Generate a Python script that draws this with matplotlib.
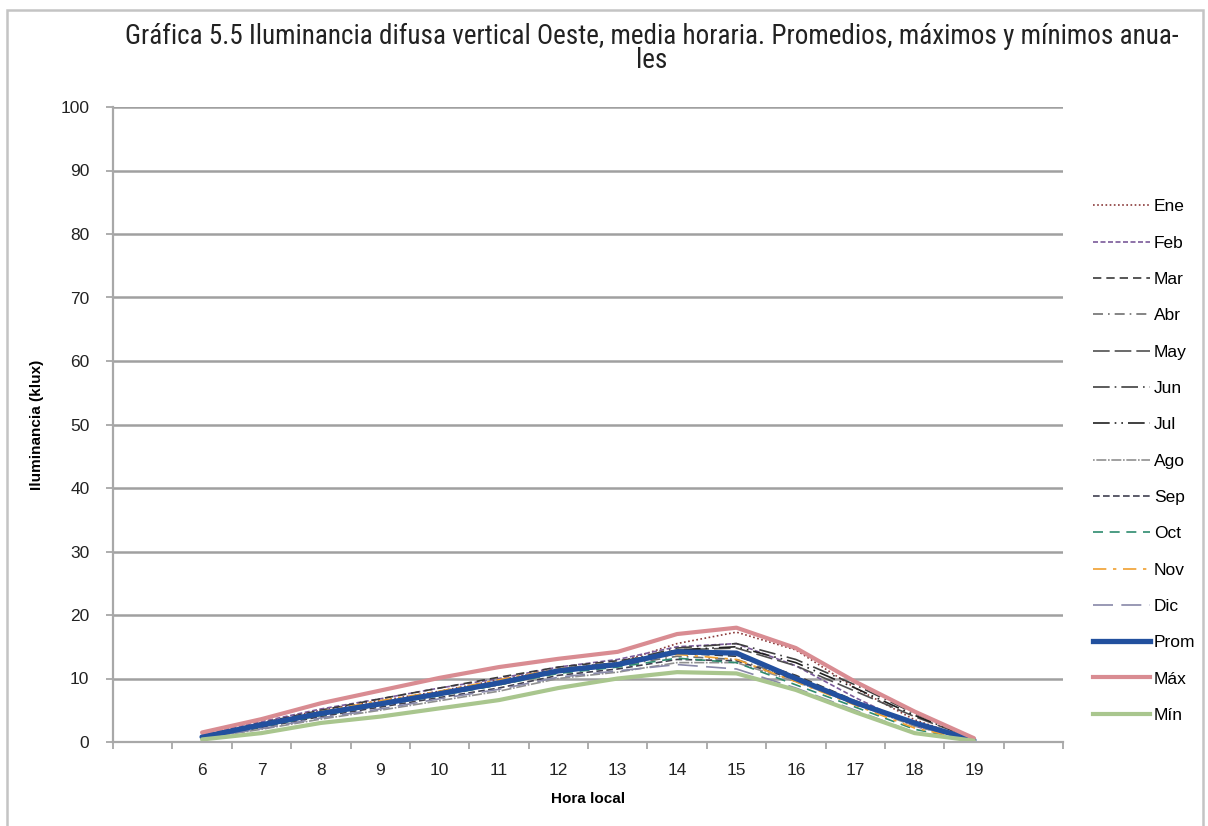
import matplotlib
matplotlib.use("Agg")
import matplotlib.pyplot as plt
from matplotlib.lines import Line2D
from matplotlib.patches import Rectangle
from matplotlib import font_manager
from matplotlib.font_manager import FontProperties

hours = [6, 7, 8, 9, 10, 11, 12, 13, 14, 15, 16, 17, 18, 19]
xtick_labels = [str(h) for h in hours]
yticks = [0, 10, 20, 30, 40, 50, 60, 70, 80, 90, 100]

ene = [1.0, 3.0, 5.0, 6.5, 8.0, 9.8, 11.5, 12.5, 15.5, 17.3, 14.5, 8.5, 3.5, 0.3]
feb = [1.2, 3.2, 5.2, 6.8, 8.5, 10.0, 11.8, 13.0, 15.0, 15.5, 12.0, 7.0, 2.5, 0.2]
mar = [1.0, 3.0, 5.0, 6.8, 8.5, 10.2, 11.8, 12.8, 14.0, 13.5, 10.5, 6.5, 3.0, 0.3]
abr = [0.8, 2.6, 4.3, 5.9, 7.5, 9.0, 11.0, 12.0, 13.5, 13.0, 10.0, 6.2, 3.0, 0.3]
may = [0.8, 2.5, 4.2, 5.8, 7.4, 9.0, 11.0, 12.2, 14.5, 14.8, 12.0, 8.0, 4.0, 0.5]
jun = [0.9, 2.7, 4.6, 6.2, 7.8, 9.5, 11.5, 12.5, 14.8, 15.5, 13.0, 9.0, 4.5, 0.5]
jul = [0.8, 2.6, 4.4, 6.0, 7.6, 9.2, 11.2, 12.3, 14.5, 15.0, 12.5, 8.5, 4.2, 0.5]
ago = [0.6, 2.0, 3.6, 5.0, 6.5, 8.0, 10.0, 11.0, 12.5, 12.5, 9.5, 6.0, 2.5, 0.3]
sep = [0.7, 2.3, 4.0, 5.5, 7.0, 8.5, 10.5, 11.5, 13.0, 12.8, 9.8, 6.0, 2.8, 0.3]
oct_ = [0.7, 2.4, 4.2, 5.8, 7.3, 9.0, 10.8, 11.8, 13.2, 12.5, 9.0, 5.5, 2.0, 0.2]
nov = [0.9, 2.8, 4.8, 6.5, 8.0, 9.8, 11.5, 12.3, 13.8, 13.0, 9.5, 5.8, 2.2, 0.2]
dic = [0.6, 2.1, 3.8, 5.2, 6.8, 8.3, 10.2, 11.2, 12.2, 11.5, 8.5, 5.0, 1.5, 0.1]
prom = [0.8, 2.7, 4.5, 6.0, 7.6, 9.3, 11.2, 12.2, 14.2, 14.0, 10.0, 6.2, 3.0, 0.3]
maxv = [1.5, 3.6, 6.1, 8.1, 10.1, 11.8, 13.1, 14.2, 17.0, 18.0, 14.8, 9.5, 4.8, 0.6]
minv = [0.4, 1.4, 3.0, 4.0, 5.3, 6.6, 8.5, 10.0, 11.0, 10.8, 8.2, 4.7, 1.4, 0.2]

series_names = ["Ene", "Feb", "Mar", "Abr", "May", "Jun", "Jul", "Ago", "Sep",
                "Oct", "Nov", "Dic", "Prom", "Máx", "Mín"]
series_values = [ene, feb, mar, abr, may, jun, jul, ago, sep, oct_, nov, dic,
                 prom, maxv, minv]
colors = ["#8a3a3a", "#7a5a9a", "#3a3a3a", "#707070", "#505050", "#404040",
          "#202020", "#909090", "#404050", "#2E8B6E", "#F0A030", "#8888A8",
          "#22509E", "#D98C92", "#A9C68E"]
styles = [(0, (1, 1.5)), (0, (3, 1.5)), (0, (5, 3)), (0, (6, 3, 1, 3)),
          (0, (10, 3)), (0, (10, 3, 1, 3)), (0, (10, 3, 1, 3, 1, 3)),
          (0, (1, 1, 6, 1)), (0, (4, 2)), (0, (6, 4)), (0, (8, 4, 2, 4)),
          (0, (12, 5)), "-", "-", "-"]
widths = [1.2] * 12 + [3.8, 3.0, 3.0]

def pick_font(cands):
    for c in cands:
        try:
            font_manager.findfont(c, fallback_to_default=False)
            return c
        except Exception:
            pass
    return "DejaVu Sans"

def pick_narrow():
    for fam in ["Liberation Sans Narrow", "Arial Narrow", "Roboto Condensed",
                "Open Sans Condensed", "Noto Sans Condensed"]:
        try:
            font_manager.findfont(fam, fallback_to_default=False)
            return FontProperties(family=[fam, "DejaVu Sans"])
        except Exception:
            pass
    for fam in ["Noto Sans", "Open Sans", "Roboto", "Liberation Sans"]:
        for st in ["condensed", "semi-condensed"]:
            try:
                fp = FontProperties(family=fam, stretch=st)
                path = font_manager.findfont(fp, fallback_to_default=False)
                if "ondensed" in path or "arrow" in path:
                    return FontProperties(fname=path)
            except Exception:
                pass
    return FontProperties(family=[pick_font(["Liberation Sans", "DejaVu Sans"]), "DejaVu Sans"])

base_font = pick_font(["Liberation Sans", "Arial", "DejaVu Sans"])
plt.rcParams['font.family'] = [base_font, "DejaVu Sans"]
title_fp = pick_narrow()

W, H = 1208, 826
fig = plt.figure(figsize=(W / 100, H / 100), dpi=100)
fig.patch.set_facecolor("white")

ax_l, ax_r, ax_t, ax_b = 113, 1063, 107, 742
ax = fig.add_axes([ax_l / W, 1 - ax_b / H, (ax_r - ax_l) / W, (ax_b - ax_t) / H])

for name, vals, c, ls, lw in zip(series_names, series_values, colors, styles, widths):
    ax.plot(hours, vals, color=c, linestyle=ls, linewidth=lw, label=name,
            solid_capstyle="round")

ax.set_xlim(4.5, 20.5)
ax.set_ylim(0, 100)
ax.set_yticks(yticks)
ax.set_yticklabels([str(v) for v in yticks])
ax.set_xticks(hours)
ax.set_xticklabels(xtick_labels)
ax.set_xticks([h + 0.5 for h in range(4, 21)], minor=True)
ax.tick_params(axis="x", which="major", length=0, pad=15, labelsize=12.5, colors="#222222")
ax.tick_params(axis="x", which="minor", length=5, width=1.2, color="#a0a0a0")
ax.tick_params(axis="y", which="major", length=5, width=1.2, color="#a0a0a0",
               pad=12, labelsize=12.5, labelcolor="#222222")
ax.grid(axis="y", color="#a0a0a0", linewidth=1.8, zorder=0)
ax.set_axisbelow(True)
for s in ["top", "right"]:
    ax.spines[s].set_visible(False)
for s in ["left", "bottom"]:
    ax.spines[s].set_color("#a8a8a8")
    ax.spines[s].set_linewidth(1.6)

ax.set_xlabel("Hora local", fontsize=11, fontweight="bold", labelpad=10)
ax.set_ylabel("Iluminancia (klux)", fontsize=11, fontweight="bold", labelpad=12)

title_line1 = "Gráfica 5.5 Iluminancia difusa vertical Oeste, media horaria. Promedios, máximos y mínimos anua-"
t1 = fig.text(652 / W, 1 - 36 / H, title_line1, ha="center", va="center",
              fontproperties=title_fp, color="#222222")
t1.set_fontsize(18)
renderer = fig.canvas.get_renderer()
wpx = t1.get_window_extent(renderer).width
fs = min(21.0, 18 * 1055.0 / wpx)
t1.set_fontsize(fs)
t2 = fig.text(652 / W, 1 - 61 / H, "les", ha="center", va="center",
              fontproperties=title_fp, color="#222222")
t2.set_fontsize(fs)

handles = [Line2D([0], [0], color=c, linestyle=ls, linewidth=lw)
           for c, ls, lw in zip(colors, styles, widths)]
leg = fig.legend(handles, series_names, loc="center left",
                 bbox_to_anchor=(1086 / W, 1 - 461 / H), frameon=False,
                 fontsize=12.5, handlelength=3.3, handletextpad=0.2,
                 labelspacing=1.22, borderaxespad=0)

fig.add_artist(Rectangle((7 / W, -0.01), (1203 - 7) / W, 1.01 - 10 / H,
                         transform=fig.transFigure, fill=False,
                         edgecolor="#c4c4c4", linewidth=1.8))

fig.savefig("out.png", dpi=100, facecolor="white")
